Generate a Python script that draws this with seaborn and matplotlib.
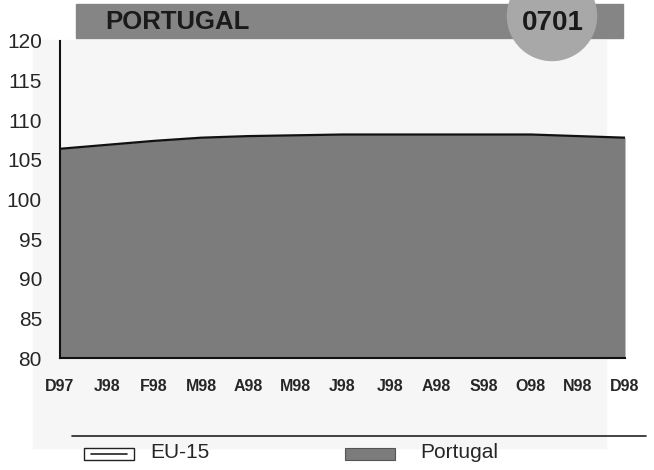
import numpy as np
import pandas as pd
import matplotlib.pyplot as plt
import seaborn as sns
from matplotlib.patches import Rectangle, Ellipse
from matplotlib.lines import Line2D

# chart data
months = ["D97", "J98", "F98", "M98", "A98", "M98", "J98",
          "J98", "A98", "S98", "O98", "N98", "D98"]
eu15 = [106.4, 106.9, 107.4, 107.8, 108.0, 108.1, 108.2,
        108.2, 108.2, 108.2, 108.2, 108.0, 107.8]
portugal = [106.4, 106.9, 107.4, 107.8, 108.0, 108.1, 108.2,
            108.2, 108.2, 108.2, 108.2, 108.0, 107.8]
y_ticks = [80, 85, 90, 95, 100, 105, 110, 115, 120]

df = pd.DataFrame({"pos": np.arange(len(months)), "month": months,
                   "EU-15": eu15, "Portugal": portugal})

sns.set_style("white")
plt.rcParams['font.family'] = ['Liberation Sans', 'DejaVu Sans']

W, H = 654, 470


def fx(px):
    return px / W


def fy(py):
    return 1 - py / H


fig = plt.figure(figsize=(6.54, 4.70), dpi=100)

# faint backdrop behind the chart (below the axes)
fig.patches.append(Rectangle((fx(33), fy(448)), fx(573), 408 / H,
                             transform=fig.transFigure, color="#f6f6f6", zorder=-5))

ax = fig.add_axes([fx(60), fy(358), fx(565), 317 / H])
ax.patch.set_alpha(0)

# Portugal as filled area, EU-15 as line on top
ax.fill_between(df["pos"], 80, df["Portugal"], color="#7c7c7c", lw=0)
sns.lineplot(data=df, x="pos", y="EU-15", ax=ax, color="#111111", lw=1.6)

ax.set_xlim(0, len(months) - 1)
ax.set_ylim(80, 120)
ax.set_yticks(y_ticks)
ax.set_yticklabels([str(t) for t in y_ticks], fontsize=15)
ax.set_xticks(df["pos"])
ax.set_xticklabels(months, fontsize=11.5, fontweight="bold")
ax.tick_params(axis="both", direction="in", length=5, width=1.2, color="#111111")
ax.tick_params(axis="x", pad=15)
ax.tick_params(axis="y", pad=13)
ax.set_xlabel("")
ax.set_ylabel("")
for s in ["top", "right"]:
    ax.spines[s].set_visible(False)
for s in ["left", "bottom"]:
    ax.spines[s].set_color("#111111")
    ax.spines[s].set_linewidth(1.5)

# title band and code circle
fig.patches.append(Rectangle((fx(76), fy(38)), fx(547), 34 / H,
                             transform=fig.transFigure, color="#858585", zorder=1))
fig.patches.append(Ellipse((fx(552), fy(16)), fx(89), 89 / H,
                           transform=fig.transFigure, color="#a8a8a8", zorder=2))
fig.text(fx(105), fy(22), "PORTUGAL", fontsize=18.5, fontweight="bold",
         va="center", ha="left", color="#1a1a1a", zorder=3)
fig.text(fx(553), fy(23), "0701", fontsize=20, fontweight="bold",
         va="center", ha="center", color="#1a1a1a", zorder=3)

# legend area
fig.add_artist(Line2D([fx(72), fx(646)], [fy(436), fy(436)],
                      transform=fig.transFigure, color="#222222", lw=1.2))
fig.patches.append(Rectangle((fx(84), fy(460)), fx(50), 12 / H,
                             transform=fig.transFigure, facecolor="white",
                             edgecolor="#222222", lw=1, zorder=2))
fig.add_artist(Line2D([fx(91), fx(127)], [fy(454), fy(454)],
                      transform=fig.transFigure, color="#222222", lw=1.2, zorder=4))
fig.text(fx(150), fy(453), "EU-15", fontsize=15, va="center")
fig.patches.append(Rectangle((fx(345), fy(460)), fx(50), 12 / H,
                             transform=fig.transFigure, facecolor="#7c7c7c",
                             edgecolor="#555555", lw=0.8, zorder=2))
fig.text(fx(420), fy(452), "Portugal", fontsize=15, va="center")

fig.savefig("out.png", dpi=100)
